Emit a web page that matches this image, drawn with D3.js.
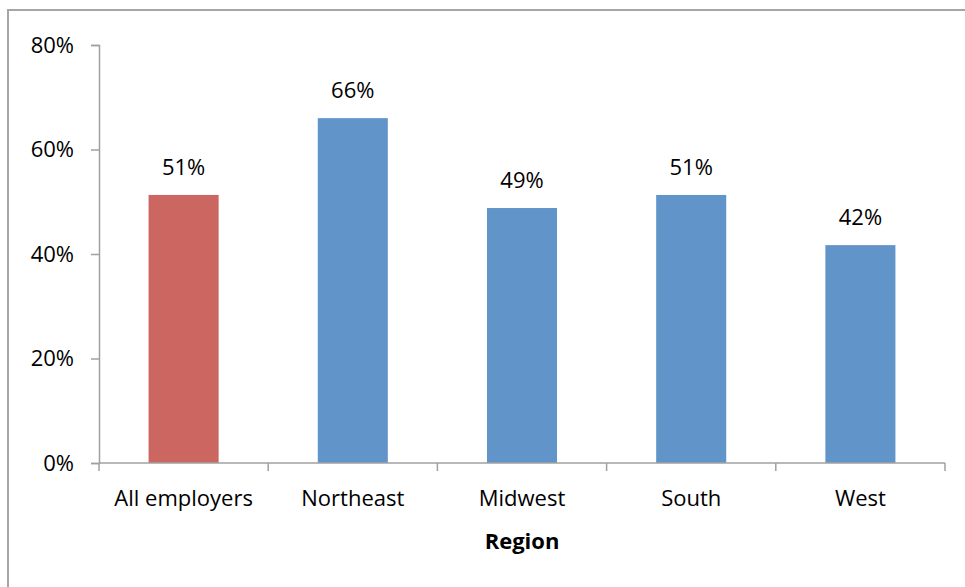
<!DOCTYPE html>
<html><head><meta charset="utf-8">
<script src="https://cdn.jsdelivr.net/npm/d3@7"></script>
<style>body{margin:0;background:#fff}svg{display:block}text{font-family:"Open Sans",sans-serif;fill:#000}</style>
</head><body>
<svg id="c" width="965" height="587"></svg>
<script>
const categories = ["All employers","Northeast","Midwest","South","West"];
const values = [51.3, 66.0, 48.8, 51.3, 41.7];
const labels = ["51%","66%","49%","51%","42%"];
const yTicks = [0,20,40,60,80];
const barColors = ["#CB6660","#6195C9","#6195C9","#6195C9","#6195C9"];
const axisTitle = "Region";

const svg = d3.select("#c");
const m = {l:99, r:945, t:45, b:463};
svg.append("rect").attr("x",8).attr("y",10).attr("width",1000).attr("height",1000)
  .attr("fill","none").attr("stroke","#A6A6A6").attr("stroke-width",2);

const x = d3.scaleBand().domain(categories).range([m.l,m.r]).paddingInner(0.586).paddingOuter(0.293);
const y = d3.scaleLinear().domain([0,80]).range([m.b,m.t]);

svg.selectAll(".bar").data(values).join("rect")
  .attr("x",(d,i)=>x(categories[i])).attr("width",x.bandwidth())
  .attr("y",d=>y(d)).attr("height",d=>y(0)-y(d))
  .attr("fill",(d,i)=>barColors[i]);

const ya = svg.append("g").attr("transform",`translate(${m.l},0)`)
  .call(d3.axisLeft(y).tickValues(yTicks).tickFormat(d=>d+"%").tickSize(8).tickPadding(17));
ya.select(".domain").attr("stroke","#A0A0A0").attr("stroke-width",1.5);
ya.selectAll(".tick line").attr("stroke","#A0A0A0").attr("stroke-width",1.5);
ya.selectAll(".tick text").style("font-size","22px").attr("fill","#000");

const xb = d3.scaleLinear().domain([0,5]).range([m.l,m.r]);
const xg = svg.append("g").attr("transform",`translate(0,${m.b})`);
xg.append("line").attr("x1",m.l).attr("x2",m.r).attr("stroke","#A0A0A0").attr("stroke-width",1.5);
xg.selectAll(".xt").data(d3.range(6)).join("line")
  .attr("x1",d=>xb(d)).attr("x2",d=>xb(d)).attr("y1",0).attr("y2",8)
  .attr("stroke","#A0A0A0").attr("stroke-width",1.5);
xg.selectAll(".xl").data(categories).join("text")
  .attr("x",d=>x(d)+x.bandwidth()/2).attr("y",43).attr("text-anchor","middle")
  .style("font-size","22px").text(d=>d);

svg.selectAll(".lbl").data(values).join("text")
  .attr("x",(d,i)=>x(categories[i])+x.bandwidth()/2).attr("y",d=>y(d)-20)
  .attr("text-anchor","middle").style("font-size","22px").text((d,i)=>labels[i]);

svg.append("text").attr("x",(m.l+m.r)/2).attr("y",549).attr("text-anchor","middle")
  .style("font-size","22px").style("font-weight","bold").text(axisTitle);
</script>
</body></html>
